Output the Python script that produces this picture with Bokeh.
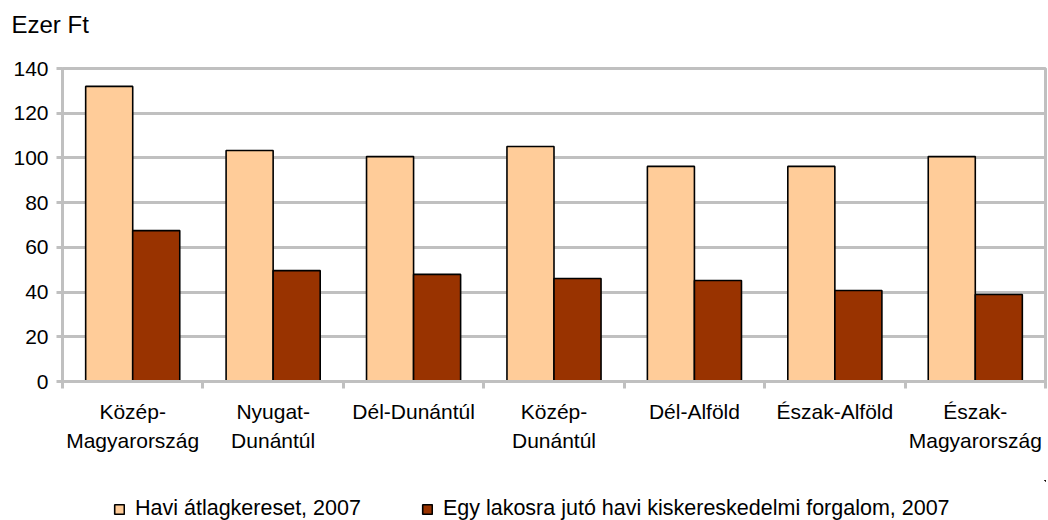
from bokeh.plotting import figure
from bokeh.layouts import column
from bokeh.models import (Range1d, FixedTicker, Legend, LegendItem, ColumnDataSource, Title)
from bokeh.transform import dodge
from bokeh.embed import file_html
from bokeh.resources import INLINE

regions = ["Közép-\nMagyarország", "Nyugat-\nDunántúl", "Dél-Dunántúl", "Közép-\nDunántúl",
           "Dél-Alföld", "Észak-Alföld", "Észak-\nMagyarország"]
wage = [132, 103.3, 100.6, 105.1, 96.2, 96.2, 100.6]
retail = [67.5, 49.6, 47.9, 46.1, 45.2, 40.7, 38.9]
series_names = ["Havi átlagkereset, 2007", "Egy lakosra jutó havi kiskereskedelmi forgalom, 2007"]
colors = ["#FFCC99", "#993300"]
y_ticks = [0, 20, 40, 60, 80, 100, 120, 140]
unit_title = "Ezer Ft"

FONT = "Liberation Sans"
GRID = "#c0c0c0"

pos = [i + 0.5 for i in range(len(regions))]
src = ColumnDataSource(dict(x=pos, wage=wage, retail=retail))

# strip holding the unit title
top = figure(width=1048, height=50, output_backend="svg", toolbar_location=None,
             x_axis_type=None, y_axis_type=None, x_range=Range1d(0, 1), y_range=Range1d(0, 1),
             min_border=0, min_border_left=0, min_border_right=0, min_border_top=0, min_border_bottom=0)
top.outline_line_color = None
top.grid.visible = False
top.title = Title(text=unit_title, text_font=FONT, text_font_size="24px", text_font_style="normal",
                  text_color="#000000", offset=-51, standoff=16)

p = figure(width=1048, height=430, output_backend="svg", toolbar_location=None,
           x_range=Range1d(0, len(regions)), y_range=Range1d(0, 140),
           min_border_left=62, min_border_right=3, min_border_top=18, min_border_bottom=99)

w = 0.335
r1 = p.vbar(x=dodge("x", -w / 2, range=p.x_range), top="wage", width=w, source=src,
            fill_color=colors[0], line_color="#000000", line_width=1.6)
r2 = p.vbar(x=dodge("x", w / 2, range=p.x_range), top="retail", width=w, source=src,
            fill_color=colors[1], line_color="#000000", line_width=1.6)

# x axis: labels at category centres, tick marks at category boundaries
xt = FixedTicker(ticks=pos, minor_ticks=list(range(len(regions) + 1)))
p.xaxis.ticker = xt
p.xaxis.major_label_overrides = {v: lab for v, lab in zip(pos, regions)}
p.xaxis.major_tick_line_color = None
p.xaxis.major_tick_out = 0
p.xaxis.major_tick_in = 0
p.xaxis.minor_tick_line_color = GRID
p.xaxis.minor_tick_line_width = 3
p.xaxis.minor_tick_out = 7
p.xaxis.minor_tick_in = 0
p.xaxis.axis_line_color = GRID
p.xaxis.axis_line_width = 3
p.xaxis.major_label_text_font = FONT
p.xaxis.major_label_text_font_size = "21px"
p.xaxis.major_label_text_color = "#000000"
p.xaxis.major_label_text_line_height = 1.27
p.xaxis.major_label_standoff = 11
p.xgrid.visible = False

p.yaxis.ticker = FixedTicker(ticks=y_ticks)
p.yaxis.axis_line_color = GRID
p.yaxis.axis_line_width = 3
p.yaxis.major_tick_line_color = GRID
p.yaxis.major_tick_line_width = 3
p.yaxis.major_tick_out = 6
p.yaxis.major_tick_in = 0
p.yaxis.minor_tick_line_color = None
p.yaxis.major_label_text_font = FONT
p.yaxis.major_label_text_font_size = "21px"
p.yaxis.major_label_text_color = "#000000"
p.yaxis.major_label_standoff = 8
p.ygrid.ticker = FixedTicker(ticks=y_ticks)
p.ygrid.grid_line_color = GRID
p.ygrid.grid_line_width = 3

p.outline_line_color = GRID
p.outline_line_width = 3
p.background_fill_color = "white"
p.border_fill_color = "white"

# strip holding the legend below the chart (same data, kept out of its visible range)
lg = figure(width=1048, height=40, output_backend="svg", toolbar_location=None,
            x_axis_type=None, y_axis_type=None,
            x_range=Range1d(-3, -2), y_range=Range1d(-3, -2),
            min_border=0, min_border_left=0, min_border_right=0, min_border_top=0, min_border_bottom=0)
lg.outline_line_color = None
lg.grid.visible = False
d1 = lg.vbar(x="x", top="wage", width=w, source=src,
             fill_color=colors[0], line_color="#000000", line_width=1.6)
d2 = lg.vbar(x="x", top="retail", width=w, source=src,
             fill_color=colors[1], line_color="#000000", line_width=1.6)
legend = Legend(items=[LegendItem(label=series_names[0], renderers=[d1]),
                       LegendItem(label=series_names[1], renderers=[d2])],
                orientation="horizontal", location=(51, -1),
                label_text_font=FONT, label_text_font_size="21.5px", label_text_color="#000000",
                glyph_width=12, glyph_height=12, label_standoff=10, spacing=60,
                border_line_color=None, background_fill_alpha=0, padding=2, margin=0)
lg.add_layout(legend, "center")

layout = column(top, p, lg, spacing=0)
open("out.html", "w").write(file_html(layout, INLINE))
